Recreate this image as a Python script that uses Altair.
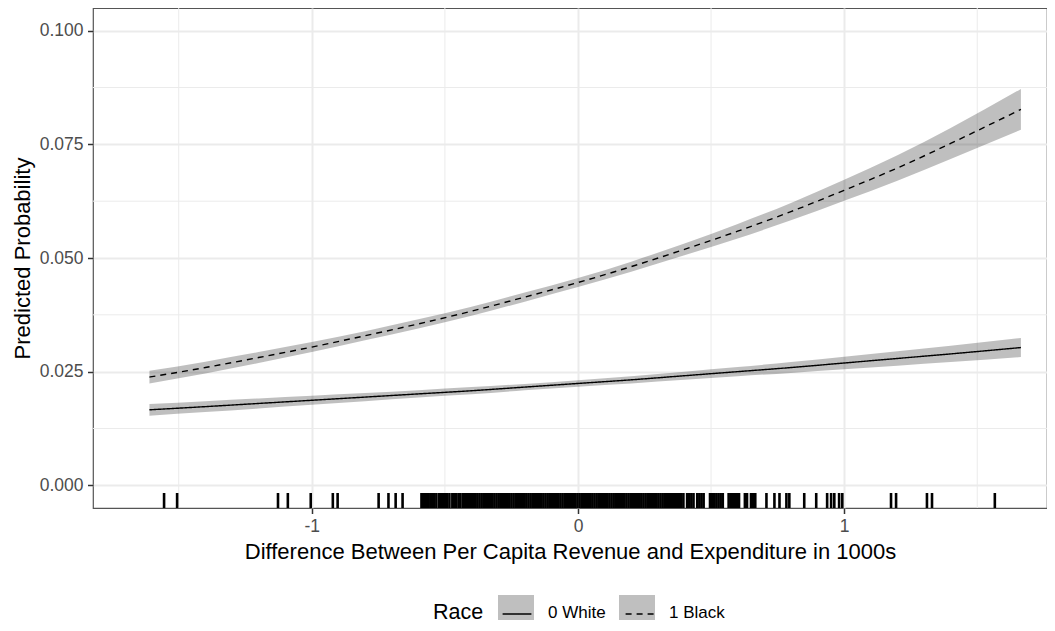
import altair as alt
import pandas as pd

# ---- data ----
x_grid = [-1.61, -1.4, -1.2, -1.0, -0.8, -0.6, -0.4, -0.2, 0.0, 0.2, 0.4, 0.6, 0.8, 1.0, 1.2, 1.4, 1.664]

white_fit = [0.0166, 0.0173, 0.0180, 0.0187, 0.0194, 0.0201, 0.0208, 0.0216, 0.0224, 0.0232, 0.0241, 0.0250, 0.0259, 0.0269, 0.0279, 0.0289, 0.0303]
white_lo = [0.0153, 0.0161, 0.0169, 0.0177, 0.0185, 0.0193, 0.0200, 0.0209, 0.0217, 0.0224, 0.0232, 0.0240, 0.0247, 0.0255, 0.0263, 0.0271, 0.0282]
white_hi = [0.0179, 0.0185, 0.0191, 0.0197, 0.0203, 0.0209, 0.0216, 0.0223, 0.0231, 0.0240, 0.0250, 0.0260, 0.0271, 0.0283, 0.0295, 0.0307, 0.0324]

black_fit = [0.0238, 0.0259, 0.0281, 0.0304, 0.0329, 0.0355, 0.0383, 0.0414, 0.0446, 0.0481, 0.0519, 0.0559, 0.0602, 0.0649, 0.0698, 0.0752, 0.0827]
black_lo = [0.0224, 0.0246, 0.0269, 0.0293, 0.0319, 0.0345, 0.0373, 0.0404, 0.0436, 0.0470, 0.0506, 0.0543, 0.0583, 0.0626, 0.0670, 0.0718, 0.0782]
black_hi = [0.0252, 0.0272, 0.0293, 0.0315, 0.0339, 0.0365, 0.0393, 0.0424, 0.0456, 0.0492, 0.0532, 0.0575, 0.0621, 0.0672, 0.0726, 0.0786, 0.0872]

race_labels = ["0 White", "1 Black"]

rug_x = [
    -1.555, -1.506, -1.127, -1.090, -1.004, -0.921, -0.903, -0.749, -0.712, -0.685, -0.659,
    -0.588, -0.582, -0.575, -0.568, -0.561, -0.553, -0.545, -0.540, -0.532, -0.522, -0.515,
    -0.508, -0.500, -0.492, -0.483, -0.472, -0.465, -0.458, -0.449, -0.442, -0.433, -0.425,
    -0.418, -0.410, -0.402, -0.394, -0.386, -0.378, -0.370, -0.362, -0.354, -0.346, -0.338,
    -0.330, -0.322, -0.314, -0.306, -0.298, -0.290, -0.282, -0.274, -0.266, -0.258, -0.250,
    -0.242, -0.234, -0.226, -0.218, -0.210, -0.202, -0.194, -0.186, -0.178, -0.170, -0.162,
    -0.154, -0.146, -0.138, -0.130, -0.122, -0.114, -0.106, -0.098, -0.090, -0.082, -0.074,
    -0.066, -0.058, -0.050, -0.042, -0.034, -0.026, -0.018, -0.010, -0.002, 0.006, 0.014,
    0.022, 0.030, 0.038, 0.046, 0.054, 0.062, 0.070, 0.078, 0.086, 0.094, 0.102, 0.110,
    0.118, 0.126, 0.134, 0.142, 0.150, 0.158, 0.166, 0.174, 0.182, 0.190, 0.198, 0.206,
    0.214, 0.222, 0.230, 0.238, 0.246, 0.254, 0.262, 0.270, 0.278, 0.286, 0.294, 0.302,
    0.310, 0.318, 0.326, 0.334, 0.342, 0.350, 0.358, 0.364,
    0.372, 0.380, 0.388, 0.396, 0.410, 0.418, 0.426, 0.434, 0.448, 0.456, 0.464, 0.472,
    0.496, 0.504, 0.512, 0.520, 0.528, 0.536, 0.544, 0.566, 0.574, 0.582, 0.590, 0.598,
    0.605, 0.627, 0.635, 0.650, 0.658, 0.666,
    0.708, 0.738, 0.757, 0.783, 0.794, 0.850, 0.895, 0.936, 0.951, 0.963, 0.981, 0.993,
    1.176, 1.195, 1.311, 1.330, 1.566,
]

x_ticks = [-1, 0, 1]
x_minor = [-1.5, -0.5, 0.5, 1.5]
y_ticks = [0.0, 0.025, 0.05, 0.075, 0.1]
y_minor = [0.0125, 0.0375, 0.0625, 0.0875]

# ---- tables ----
rows = []
for i, xv in enumerate(x_grid):
    rows.append({"x": xv, "fit": white_fit[i], "lo": white_lo[i], "hi": white_hi[i], "Race": race_labels[0]})
    rows.append({"x": xv, "fit": black_fit[i], "lo": black_lo[i], "hi": black_hi[i], "Race": race_labels[1]})
df = pd.DataFrame(rows)
df["RaceLine"] = df["Race"]

rug_df = pd.DataFrame({"x": rug_x})
mx_df = pd.DataFrame({"x": x_minor})
my_df = pd.DataFrame({"y": y_minor})

W, H = 954, 500
FONT = "Liberation Sans"
xscale = alt.Scale(domain=[-1.822, 1.762], nice=False, zero=False)
yscale = alt.Scale(domain=[-0.005, 0.105], nice=False, zero=False)

xaxis = alt.Axis(
    title="Difference Between Per Capita Revenue and Expenditure in 1000s",
    values=x_ticks, format="d", labelExpr="replace(datum.label, '\u2212', '-')",
    grid=True, gridColor="#EBEBEB", gridWidth=2,
    domain=False, ticks=True, tickColor="#333333", tickSize=5.5, tickWidth=1.5,
    labelFont=FONT, labelFontSize=17.5, labelColor="#4D4D4D", labelPadding=4,
    titleFont=FONT, titleFontSize=22, titleFontWeight="normal", titleColor="black", titlePadding=6,
)
yaxis = alt.Axis(
    title="Predicted Probability",
    values=y_ticks, format=".3f",
    grid=True, gridColor="#EBEBEB", gridWidth=2,
    domain=False, ticks=True, tickColor="#333333", tickSize=5.5, tickWidth=1.5,
    labelFont=FONT, labelFontSize=17.5, labelColor="#4D4D4D", labelPadding=4.5,
    titleFont=FONT, titleFontSize=22, titleFontWeight="normal", titleColor="black", titlePadding=5,
)

LEG_X, LEG_Y, KEY = 340, 587, 36

minor_x = alt.Chart(mx_df).mark_rule(color="#EBEBEB", strokeWidth=1).encode(
    x=alt.X("x:Q", scale=xscale, axis=xaxis)
)
minor_y = alt.Chart(my_df).mark_rule(color="#EBEBEB", strokeWidth=1).encode(
    y=alt.Y("y:Q", scale=yscale, axis=yaxis)
)

band = alt.Chart(df).mark_area(opacity=0.25, interpolate="monotone").encode(
    x=alt.X("x:Q", scale=xscale, axis=xaxis),
    y=alt.Y("lo:Q", scale=yscale, axis=yaxis),
    y2="hi:Q",
    fill=alt.Fill(
        "Race:N",
        scale=alt.Scale(range=["#000000", "#000000"]),
        legend=alt.Legend(
            title="Race", orient="none", legendX=LEG_X, legendY=LEG_Y, direction="horizontal",
            titleOrient="left", titleAnchor="middle", titleBaseline="middle", titlePadding=14,
            symbolType="square", symbolSize=KEY * KEY, symbolOpacity=0.25, symbolStrokeWidth=0,
            labelOffset=14, columnPadding=13, padding=0,
            labelFont=FONT, labelFontSize=17, labelColor="black",
            titleFont=FONT, titleFontSize=21.5, titleFontWeight="normal", titleColor="black",
            zindex=0,
        ),
    ),
)

lines = alt.Chart(df).mark_line(color="black", strokeWidth=1.4, interpolate="monotone").encode(
    x=alt.X("x:Q", scale=xscale, axis=xaxis),
    y=alt.Y("fit:Q", scale=yscale, axis=yaxis),
    strokeDash=alt.StrokeDash(
        "RaceLine:N",
        scale=alt.Scale(range=[[1, 0], [6, 5]]),
        legend=alt.Legend(
            title="Race", orient="none", legendX=LEG_X, legendY=LEG_Y, direction="horizontal",
            titleOrient="left", titleAnchor="middle", titleBaseline="middle", titlePadding=14,
            symbolType="M-0.8,0H0.8", symbolSize=KEY * KEY, symbolStrokeColor="black",
            symbolStrokeWidth=1.4, symbolFillColor="transparent",
            labelOffset=14, columnPadding=13, padding=0,
            labelFont=FONT, labelFontSize=17, labelOpacity=0,
            titleFont=FONT, titleFontSize=21.5, titleFontWeight="normal", titleOpacity=0,
            zindex=1,
        ),
    ),
)

rug = alt.Chart(rug_df).mark_rule(color="black", strokeWidth=2.6).encode(
    x=alt.X("x:Q", scale=xscale, axis=xaxis),
    y=alt.value(H - 15),
    y2=alt.value(H),
)

chart = (
    alt.layer(minor_x, minor_y, band, lines, rug)
    .properties(
        width=W, height=H,
        padding={"left": 85, "top": 0, "right": 0, "bottom": 112},
        autosize=alt.AutoSizeParams(type="none"),
        background="white",
    )
    .configure_view(stroke="#555555", strokeWidth=1.2)
)

chart.save("out.html", embed_options={"renderer": "svg", "actions": False})
